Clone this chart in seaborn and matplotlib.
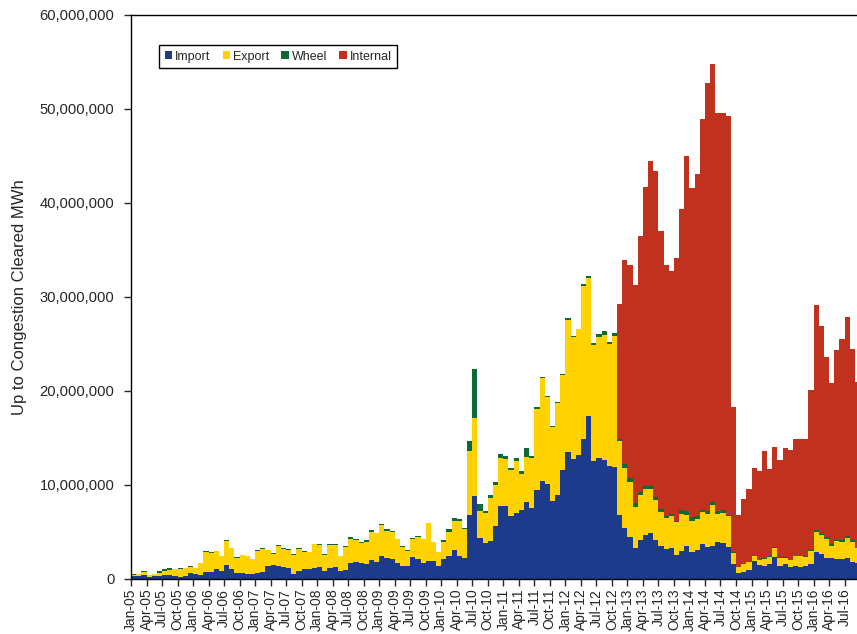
import numpy as np
import pandas as pd
import matplotlib
matplotlib.use("Agg")
import matplotlib.pyplot as plt
import seaborn as sns
from matplotlib.patches import Patch
from matplotlib.ticker import FuncFormatter

# ---------------- data (million MWh per month) ----------------
years = list(range(2005, 2017))
month_names = ["Jan", "Feb", "Mar", "Apr", "May", "Jun",
               "Jul", "Aug", "Sep", "Oct", "Nov", "Dec"]

import_mwh = [
    0.28, 0.28, 0.40, 0.25, 0.30, 0.35, 0.40, 0.43, 0.35, 0.25, 0.28, 0.64,
    0.57, 0.46, 0.78, 0.75, 1.03, 0.89, 1.49, 1.10, 0.60, 0.64, 0.57, 0.57,
    0.62, 0.78, 1.36, 1.47, 1.35, 1.24, 1.20, 0.57, 0.90, 1.03, 1.03, 1.17,
    1.28, 0.82, 1.17, 1.28, 0.85, 0.96, 1.70, 1.77, 1.67, 1.63, 2.02, 1.80,
    2.45, 2.27, 2.16, 1.70, 1.38, 1.42, 2.38, 2.13, 1.67, 1.95, 1.95, 1.42,
    2.16, 2.50, 3.10, 2.50, 2.27, 6.77, 8.87, 4.33, 3.83, 4.04, 5.64, 7.80,
    7.80, 6.74, 7.00, 7.34, 8.20, 7.55, 9.47, 10.46, 10.10, 8.33, 8.97, 11.63,
    13.50, 12.80, 13.20, 14.93, 17.30, 12.55, 12.90, 12.66, 12.00, 11.88, 6.81, 5.46,
    4.50, 3.33, 4.15, 4.68, 4.86, 4.15, 3.55, 3.19, 3.30, 2.55, 2.98, 3.55,
    2.90, 3.08, 3.76, 3.40, 3.48, 3.94, 3.83, 3.40, 1.60, 0.67, 0.71, 0.96,
    1.90, 1.50, 1.38, 1.56, 2.38, 1.42, 1.60, 1.24, 1.42, 1.30, 1.35, 1.56,
    2.90, 2.62, 2.27, 2.27, 2.16, 2.10, 2.23, 1.84, 1.74,
]
export_mwh = [
    0.18, 0.22, 0.35, 0.17, 0.20, 0.29, 0.50, 0.53, 0.68, 0.81, 0.85, 0.60,
    0.56, 1.24, 2.09, 2.02, 1.95, 1.52, 2.55, 2.16, 1.67, 1.91, 1.88, 1.56,
    2.40, 2.44, 1.69, 1.23, 2.17, 1.98, 1.90, 1.98, 2.32, 1.89, 1.83, 2.51,
    2.38, 1.76, 2.49, 2.36, 1.57, 2.44, 2.58, 2.35, 2.18, 2.35, 3.03, 3.05,
    3.30, 2.88, 2.84, 2.55, 2.07, 1.58, 1.90, 2.32, 2.58, 4.00, 1.98, 1.41,
    1.81, 2.53, 3.10, 3.70, 3.03, 6.88, 8.23, 2.94, 3.15, 4.61, 4.36, 5.10,
    4.97, 4.86, 5.60, 3.83, 4.74, 5.32, 8.63, 10.89, 9.30, 7.85, 9.78, 10.07,
    14.10, 12.95, 13.35, 16.27, 14.70, 12.35, 12.80, 13.34, 12.96, 13.97, 7.87, 6.31,
    5.78, 4.37, 4.79, 4.89, 4.71, 4.25, 3.61, 3.26, 3.40, 3.51, 3.97, 3.22,
    3.27, 3.27, 3.34, 3.48, 4.39, 2.96, 3.15, 3.30, 1.20, 0.57, 0.85, 0.81,
    0.50, 0.50, 0.78, 0.78, 0.95, 0.78, 0.63, 0.76, 1.03, 1.15, 0.99, 1.42,
    2.06, 2.06, 2.02, 1.28, 1.92, 1.87, 2.17, 2.10, 1.52,
]
wheel_mwh = [
    0.04, 0.04, 0.15, 0.04, 0.07, 0.16, 0.13, 0.17, 0.07, 0.07, 0.07, 0.11,
    0.07, 0.04, 0.07, 0.05, 0.04, 0.04, 0.11, 0.04, 0.04, 0.04, 0.04, 0.04,
    0.04, 0.06, 0.04, 0.04, 0.05, 0.04, 0.05, 0.11, 0.04, 0.04, 0.04, 0.04,
    0.04, 0.04, 0.06, 0.08, 0.04, 0.10, 0.15, 0.14, 0.12, 0.12, 0.12, 0.07,
    0.15, 0.15, 0.10, 0.05, 0.05, 0.05, 0.12, 0.12, 0.05, 0.05, 0.04, 0.04,
    0.13, 0.27, 0.30, 0.15, 0.10, 1.05, 5.20, 0.73, 0.25, 0.29, 0.30, 0.36,
    0.33, 0.24, 0.30, 0.33, 1.03, 0.23, 0.23, 0.10, 0.07, 0.06, 0.05, 0.14,
    0.17, 0.05, 0.05, 0.20, 0.20, 0.20, 0.36, 0.35, 0.24, 0.35, 0.21, 0.43,
    0.50, 0.42, 0.35, 0.32, 0.32, 0.32, 0.25, 0.25, 0.25, 0.14, 0.35, 0.43,
    0.39, 0.35, 0.24, 0.32, 0.32, 0.33, 0.32, 0.10, 0.10, 0.06, 0.04, 0.05,
    0.05, 0.05, 0.10, 0.06, 0.12, 0.10, 0.07, 0.05, 0.05, 0.05, 0.06, 0.10,
    0.24, 0.17, 0.16, 0.20, 0.12, 0.13, 0.20, 0.16, 0.09,
]
internal_mwh = [0.0] * 94 + [
    14.37, 21.77, 22.66, 23.16, 27.16, 31.81, 34.54, 34.65, 29.59, 26.67,
    25.82, 28.00, 32.10, 37.80, 35.04, 36.40, 41.56, 45.60, 46.61, 42.37,
    42.30, 42.46, 15.40, 5.50, 6.90, 7.72, 9.32, 9.47, 11.34, 9.27,
    10.55, 10.40, 11.64, 11.65, 12.36, 12.43, 12.53, 17.02, 24.00, 22.05,
    19.20, 17.15, 20.20, 21.40, 23.30, 20.40, 17.65,
]

series_names = ["Import", "Export", "Wheel", "Internal"]
colors = {"Import": "#1e3a8a", "Export": "#ffd200",
          "Wheel": "#0b6a36", "Internal": "#c0321e"}

n = len(import_mwh)
months = [f"{month_names[k % 12]}-{str(years[k // 12])[2:]}" for k in range(n)]

df = pd.DataFrame({
    "month": months,
    "Import": np.array(import_mwh) * 1e6,
    "Export": np.array(export_mwh) * 1e6,
    "Wheel": np.array(wheel_mwh) * 1e6,
    "Internal": np.array(internal_mwh) * 1e6,
})
# cumulative stacks
df["c_import"] = df["Import"]
df["c_export"] = df["c_import"] + df["Export"]
df["c_wheel"] = df["c_export"] + df["Wheel"]
df["c_internal"] = df["c_wheel"] + df["Internal"]

# ---------------- figure ----------------
sns.set_style("ticks")
plt.rcParams["font.family"] = ["Liberation Sans", "DejaVu Sans"]

fig = plt.figure(figsize=(8.57, 6.34), dpi=100, facecolor="white")
ax = fig.add_axes([131 / 857, (634 - 579) / 634, 726 / 857, 564 / 634])

for col, name in [("c_internal", "Internal"), ("c_wheel", "Wheel"),
                  ("c_export", "Export"), ("c_import", "Import")]:
    sns.barplot(data=df, x="month", y=col, order=months, color=colors[name],
                saturation=1, width=1.0, linewidth=0, errorbar=None, ax=ax)

ax.set_xlim(-0.5, n - 1.1)
ax.set_ylim(0, 60e6)
ax.set_yticks(np.arange(0, 60e6 + 1, 10e6))
ax.yaxis.set_major_formatter(FuncFormatter(lambda v, p: f"{v:,.0f}"))

tick_idx = list(range(0, n, 3))
ax.set_xticks([i - 0.5 for i in tick_idx])
ax.set_xticklabels([months[i] for i in tick_idx], rotation=90,
                   ha="center", va="top", fontsize=10)
ax.tick_params(axis="y", labelsize=10.6, length=5, width=1, pad=7)
ax.tick_params(axis="x", length=5, width=1, pad=2)

ax.set_xlabel("")
ax.set_ylabel("Up to Congestion Cleared MWh", fontsize=12, labelpad=9)

for s in ["left", "bottom", "top"]:
    ax.spines[s].set_visible(True)
    ax.spines[s].set_color("black")
    ax.spines[s].set_linewidth(1)
ax.spines["right"].set_visible(False)

handles = [Patch(facecolor=colors[s], edgecolor="none", label=s) for s in series_names]
leg = ax.legend(handles=handles, loc="upper left",
                bbox_to_anchor=((159 - 131) / 726, (579 - 45) / 564),
                borderaxespad=0, ncol=4, fontsize=9, frameon=True,
                fancybox=False, edgecolor="black", framealpha=1,
                handlelength=0.6, handleheight=0.6, handletextpad=0.25,
                columnspacing=0.95, borderpad=0.45)
leg.get_frame().set_linewidth(1)

fig.savefig("out.png", dpi=100, facecolor="white")
